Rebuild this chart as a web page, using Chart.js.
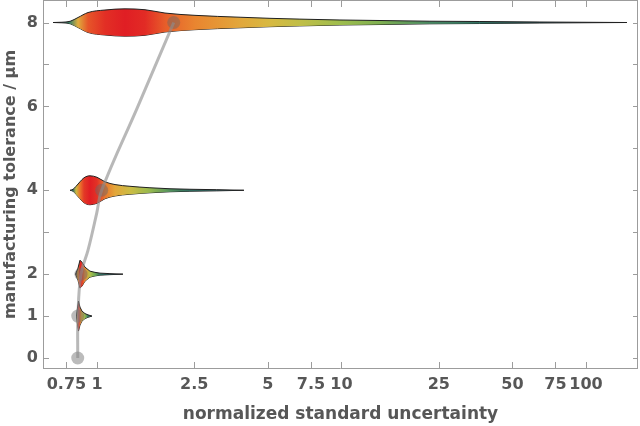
<!DOCTYPE html>
<html>
<head>
<meta charset="utf-8">
<script src="https://cdn.jsdelivr.net/npm/chart.js@4"></script>
<style>
html,body{margin:0;padding:0;background:#fff;}
#wrap{width:640px;height:426px;}
</style>
</head>
<body>
<div id="wrap"><canvas id="c" width="640" height="426"></canvas></div>
<script>
// ---- tick definitions ----
const xTickValues = [0.75, 1, 2.5, 5, 7.5, 10, 25, 50, 75, 100];
const xTickLabels = ['0.75', '1', '2.5', '5', '7.5', '10', '25', '50', '75', '100'];
const yTickValues = [0, 1, 2, 3, 4, 5, 6, 7, 8];
const yTickLabels = ['0', '1', '2', '', '4', '', '6', '', '8'];

// ---- violins: centre (tolerance), x samples, half-widths (in tolerance units) ----
const violinCenters = [8, 4, 2, 1];
const v8X = [0.661, 0.719, 0.776, 0.836, 0.919, 1.078, 1.302, 1.572, 1.897, 2.517, 3.846, 5.10, 6.76, 9.86, 14.37, 23.0, 36.8, 64.8, 147];
const v8W = [0, 0.007, 0.029, 0.119, 0.238, 0.298, 0.326, 0.305, 0.226, 0.171, 0.126, 0.100, 0.081, 0.060, 0.048, 0.031, 0.024, 0.012, 0];
const v4X = [0.776, 0.798, 0.821, 0.852, 0.885, 0.936, 1.0, 1.078, 1.185, 1.364, 1.647, 1.989, 2.40, 3.09, 3.99];
const v4W = [0, 0.024, 0.095, 0.202, 0.298, 0.345, 0.310, 0.202, 0.136, 0.095, 0.060, 0.036, 0.024, 0.014, 0];
const v2X = [0.817, 0.836, 0.852, 0.868, 0.893, 0.936, 0.981, 1.029, 1.130, 1.277];
const v2W = [0, 0.143, 0.333, 0.286, 0.167, 0.071, 0.043, 0.024, 0.012, 0];
const v1X = [0.824, 0.832, 0.840, 0.852, 0.868, 0.893, 0.919, 0.954];
const v1W = [0, 0.190, 0.357, 0.214, 0.119, 0.060, 0.029, 0];

// ---- grey trend curve and its markers ----
const curveX = [0.834, 0.836, 0.860, 0.919, 0.997, 1.045, 1.47, 2.06];
const curveY = [0, 1, 2, 2.57, 3.45, 4, 6, 8];
const dotX = [0.834, 0.834, 0.860, 1.045, 2.06];
const dotY = [0, 1, 2, 4, 8];

const violinXs = [v8X, v4X, v2X, v1X];
const violinWs = [v8W, v4W, v2W, v1W];
const violinSmooth = [true, true, false, false];

// colour map by relative density
const cmap = [
  [0.00, [45, 50, 58]],
  [0.04, [40, 72, 74]],
  [0.08, [52, 122, 104]],
  [0.13, [112, 170, 82]],
  [0.20, [172, 194, 76]],
  [0.30, [214, 186, 66]],
  [0.42, [230, 160, 56]],
  [0.55, [234, 126, 46]],
  [0.75, [230, 80, 40]],
  [1.00, [224, 30, 36]]
];
function colorAt(t) {
  t = Math.max(0, Math.min(1, t));
  for (let i = 1; i < cmap.length; i++) {
    if (t <= cmap[i][0]) {
      const [t0, c0] = cmap[i - 1], [t1, c1] = cmap[i];
      const f = (t - t0) / (t1 - t0);
      const c = c0.map((v, k) => Math.round(v + (c1[k] - v) * f));
      return 'rgb(' + c.join(',') + ')';
    }
  }
  return 'rgb(224,30,36)';
}
function violinGradient(chart, k) {
  const xs = violinXs[k], ws = violinWs[k];
  const sx = chart.scales.x;
  if (!chart.chartArea || !sx) return colorAt(0.6);
  const p0 = sx.getPixelForValue(xs[0]);
  const p1 = sx.getPixelForValue(xs[xs.length - 1]);
  const g = chart.ctx.createLinearGradient(p0, 0, p1, 0);
  const wmax = Math.max(...ws);
  xs.forEach((x, i) => {
    const p = (sx.getPixelForValue(x) - p0) / (p1 - p0);
    g.addColorStop(Math.max(0, Math.min(1, p)), colorAt(ws[i] / wmax));
  });
  return g;
}

const datasets = [];
datasets.push({
  label: 'trend', data: curveX.map((x, i) => ({x, y: curveY[i]})),
  borderColor: 'rgba(140,140,140,0.62)', borderWidth: 3, pointRadius: 0,
  tension: 0.4, fill: false, order: 0
});
datasets.push({
  label: 'dots', data: dotX.map((x, i) => ({x, y: dotY[i]})),
  showLine: false, pointRadius: 6.5, pointBorderWidth: 0,
  pointBackgroundColor: 'rgba(105,105,105,0.45)', order: 0
});
violinCenters.forEach((c, k) => {
  const xs = violinXs[k], ws = violinWs[k];
  const common = {
    borderColor: '#202020', borderWidth: 1, pointRadius: 0,
    cubicInterpolationMode: violinSmooth[k] ? 'monotone' : 'default',
    tension: 0, order: 1
  };
  datasets.push(Object.assign({}, common, {
    label: 'v' + c + 'u', data: xs.map((x, i) => ({x, y: c + ws[i]})),
    fill: '+1', backgroundColor: (ctx) => violinGradient(ctx.chart, k)
  }));
  datasets.push(Object.assign({}, common, {
    label: 'v' + c + 'l', data: xs.map((x, i) => ({x, y: c - ws[i]})),
    fill: false
  }));
});

const TEXT = '#575757';
const AXIS = '#9c9c9c';
const FONT = "'DejaVu Sans'";

const framePlugin = {
  id: 'frame',
  afterDraw(chart) {
    const {ctx, chartArea: a, scales: {x, y}} = chart;
    ctx.save();
    ctx.strokeStyle = AXIS;
    ctx.lineWidth = 1;
    ctx.beginPath();
    ctx.moveTo(a.left + 0.5, a.top); ctx.lineTo(a.left + 0.5, a.bottom + 1);
    ctx.moveTo(a.left, a.bottom + 0.5); ctx.lineTo(a.right, a.bottom + 0.5);
    ctx.moveTo(a.left, a.top - 0.5); ctx.lineTo(a.right, a.top - 0.5);
    ctx.moveTo(a.right - 0.5, a.top); ctx.lineTo(a.right - 0.5, a.bottom);
    xTickValues.forEach(v => {
      const px = Math.round(x.getPixelForValue(v)) + 0.5;
      ctx.moveTo(px, a.bottom); ctx.lineTo(px, a.bottom - 6);
      ctx.moveTo(px, a.top); ctx.lineTo(px, a.top + 6);
    });
    yTickValues.forEach(v => {
      const py = Math.round(y.getPixelForValue(v)) + 0.5;
      ctx.moveTo(a.left, py); ctx.lineTo(a.left + 6, py);
      ctx.moveTo(a.right, py); ctx.lineTo(a.right - 5, py);
    });
    ctx.stroke();
    ctx.restore();
  }
};

new Chart(document.getElementById('c'), {
  type: 'line',
  data: {datasets},
  options: {
    responsive: false,
    animation: false,
    events: [],
    layout: {autoPadding: false, padding: {top: 1, right: 2, left: 0, bottom: 0}},
    plugins: {legend: {display: false}, tooltip: {enabled: false}},
    scales: {
      x: {
        type: 'logarithmic', min: 0.6014, max: 163.2, bounds: 'data',
        afterBuildTicks: (s) => { s.ticks = xTickValues.map(v => ({value: v})); },
        afterFit: (s) => { s.height = 58; s.paddingLeft = 0; s.paddingRight = 0; },
        ticks: {
          autoSkip: false, maxRotation: 0, padding: 7, color: TEXT,
          font: {family: FONT, size: 16, weight: 'bold'},
          callback: (v, i) => xTickLabels[i]
        },
        grid: {display: false, drawTicks: false},
        border: {display: false},
        title: {
          display: true, text: 'normalized standard uncertainty', color: TEXT,
          font: {family: FONT, size: 17, weight: 'bold'},
          padding: {top: 0, bottom: 1}
        }
      },
      y: {
        type: 'linear', min: -0.238, max: 8.513, bounds: 'data',
        afterBuildTicks: (s) => { s.ticks = yTickValues.map(v => ({value: v})); },
        afterFit: (s) => { s.width = 43; s.paddingTop = 0; s.paddingBottom = 0; },
        ticks: {
          autoSkip: false, padding: 5, color: TEXT,
          font: {family: FONT, size: 16, weight: 'bold'},
          callback: (v, i) => yTickLabels[i]
        },
        grid: {display: false, drawTicks: false},
        border: {display: false},
        title: {
          display: true, text: 'manufacturing tolerance / μm', color: TEXT,
          font: {family: FONT, size: 16, weight: 'bold'},
          padding: {top: 1, bottom: 0}
        }
      }
    }
  },
  plugins: [framePlugin]
});
</script>
</body>
</html>
